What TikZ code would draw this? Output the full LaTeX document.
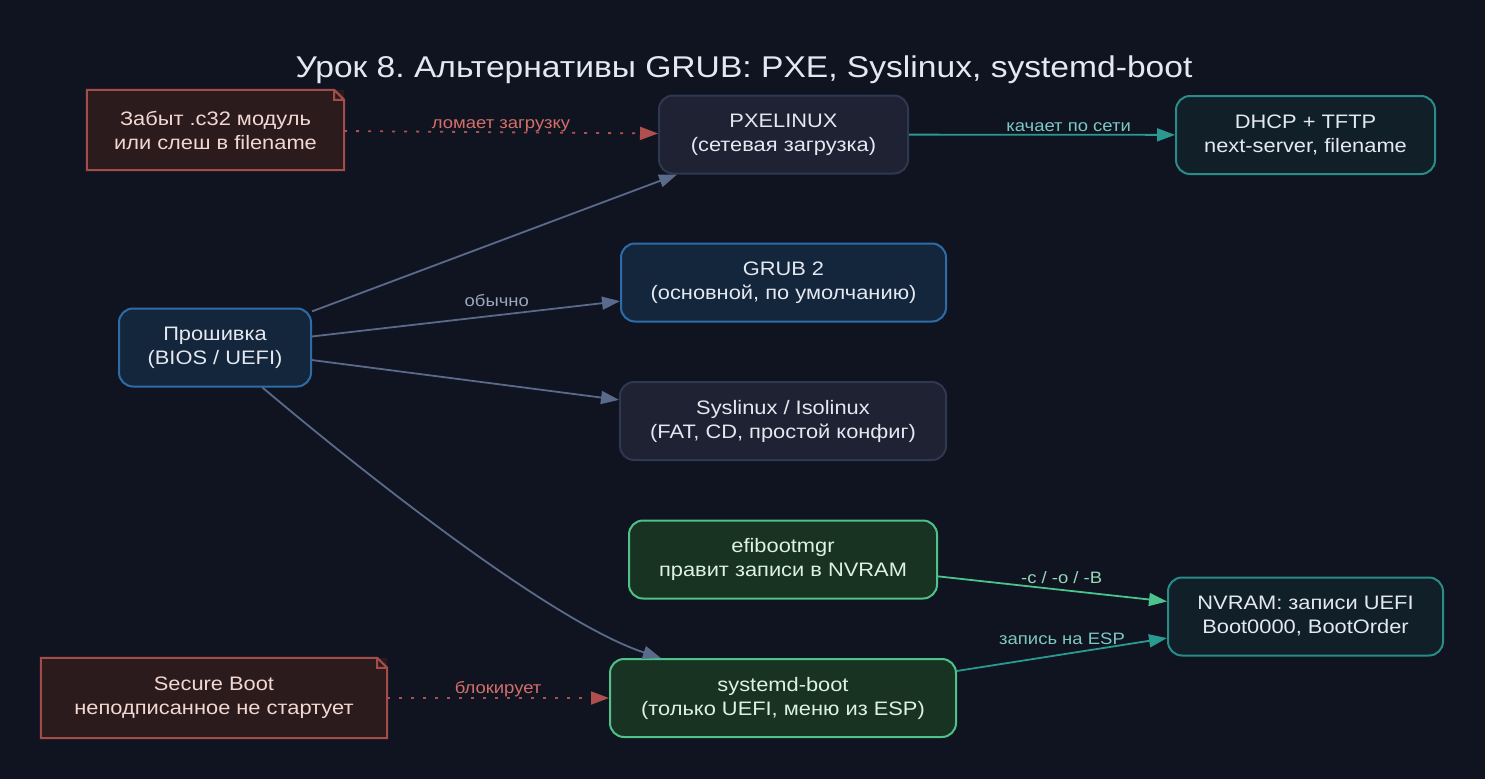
\documentclass[tikz,border=0pt]{standalone}
\usepackage{fontspec}
\setmainfont{Liberation Sans}[FakeStretch=1.12]
\usetikzlibrary{arrows.meta}

\definecolor{bg}{HTML}{0F1420}
\definecolor{grayfill}{HTML}{1E2233}
\definecolor{grayline}{HTML}{2E3850}
\definecolor{bluefill}{HTML}{13263B}
\definecolor{blueline}{HTML}{2D6CA8}
\definecolor{tealfill}{HTML}{111F28}
\definecolor{tealline}{HTML}{2A8C88}
\definecolor{greenfill}{HTML}{193322}
\definecolor{greenline}{HTML}{4DC28A}
\definecolor{notefill}{HTML}{2C1B1D}
\definecolor{noteline}{HTML}{A34C4A}
\definecolor{txt}{HTML}{E4E8F0}
\definecolor{greentxt}{HTML}{DDF2E2}
\definecolor{notetxt}{HTML}{F2D8D2}
\definecolor{grayedge}{HTML}{5A6A8A}
\definecolor{graylbl}{HTML}{9CA6BE}
\definecolor{tealedge}{HTML}{2A9A90}
\definecolor{teallbl}{HTML}{7DC8C4}
\definecolor{greenedge}{HTML}{4CC38A}
\definecolor{greenlbl}{HTML}{95D9B5}
\definecolor{rededge}{HTML}{B0504E}
\definecolor{redlbl}{HTML}{D46E6A}

\begin{document}
\frenchspacing
\begin{tikzpicture}[x=1pt, y=-1pt,
  box/.style={draw, line width=2pt, rounded corners=14pt, minimum height=78pt,
              align=center, font=\fontsize{19.5}{24}\selectfont, text=txt},
  graybox/.style={box, fill=grayfill, draw=grayline},
  bluebox/.style={box, fill=bluefill, draw=blueline},
  tealbox/.style={box, fill=tealfill, draw=tealline},
  greenbox/.style={box, fill=greenfill, draw=greenline, text=greentxt},
  note/.style={fill=notefill, minimum height=80pt, align=center,
               font=\fontsize{19.5}{24}\selectfont, text=notetxt},
  arr/.style={line width=1.8pt, -{Triangle[length=18pt,width=13pt]}},
  lbl/.style={above, inner sep=2pt, font=\fontsize{16.5}{19}\selectfont}
]
\fill[bg] (0,0) rectangle (1485,779);
\useasboundingbox (0,0) rectangle (1485,779);

\node[font=\fontsize{30}{36}\selectfont, text=txt] (title) at (744,70)
  {Урок 8. Альтернативы GRUB: PXE, Syslinux, systemd-boot};

\node[graybox, minimum width=249pt] (pxe) at (783.5,134.5) {PXELINUX\\(сетевая загрузка)};
\node[tealbox, minimum width=259pt] (dhcp) at (1305.5,135) {DHCP + TFTP\\next-server, filename};
\node[bluebox, minimum width=325pt] (grub) at (783.5,282.5) {GRUB 2\\(основной, по умолчанию)};
\node[bluebox, minimum width=192pt] (fw) at (215,347.5) {Прошивка\\(BIOS / UEFI)};
\node[graybox, minimum width=326pt] (syslx) at (783,421) {Syslinux / Isolinux\\(FAT, CD, простой конфиг)};
\node[greenbox, minimum width=308pt] (efi) at (783,559.5) {efibootmgr\\правит записи в NVRAM};
\node[tealbox, minimum width=275pt] (nvram) at (1305.5,616.5) {NVRAM: записи UEFI\\Boot0000, BootOrder};
\node[greenbox, minimum width=346pt] (sdboot) at (783,698) {systemd-boot\\(только UEFI, меню из ESP)};
\node[note, minimum width=257pt] (c32) at (215.5,130) {Забыт .c32 модуль\\или слеш в filename};
\node[note, minimum width=346pt] (secboot) at (214,698) {Secure Boot\\неподписанное не стартует};

% folded corner of the notes
\foreach \n in {c32, secboot}
  \draw[noteline, line width=2pt, line join=miter]
    (\n.south west) -- (\n.north west) -- ([xshift=-10pt]\n.north east)
    -- ([yshift=-10pt]\n.north east) -- (\n.south east) -- cycle
    ([xshift=-10pt]\n.north east) |- ([yshift=-10pt]\n.north east);

\draw[arr, grayedge] (fw) -- (pxe);
\draw[arr, grayedge] (fw) -- node[lbl, text=graylbl, pos=0.6, yshift=6pt] {обычно} (grub);
\draw[arr, grayedge] (fw) -- (syslx);
\draw[arr, grayedge] (fw) .. controls (390,495) and (560,625) .. (sdboot);

\draw[arr, tealedge] (pxe) -- node[lbl, text=teallbl, pos=0.6] {качает по сети} (dhcp);
\draw[arr, greenedge] (efi) -- node[lbl, text=greenlbl, pos=0.54, yshift=3pt] {-c / -o / -B} (nvram);
\draw[arr, tealedge] (sdboot) -- node[lbl, text=teallbl, yshift=7pt] {запись на ESP} (nvram);

\draw[arr, rededge, dash pattern=on 3pt off 9pt] (c32) -- node[lbl, text=redlbl, yshift=-3pt] {ломает загрузку} (pxe);
\draw[arr, rededge, dash pattern=on 3pt off 9pt] (secboot) -- node[lbl, text=redlbl, yshift=-2pt] {блокирует} (sdboot);
\end{tikzpicture}
\end{document}
